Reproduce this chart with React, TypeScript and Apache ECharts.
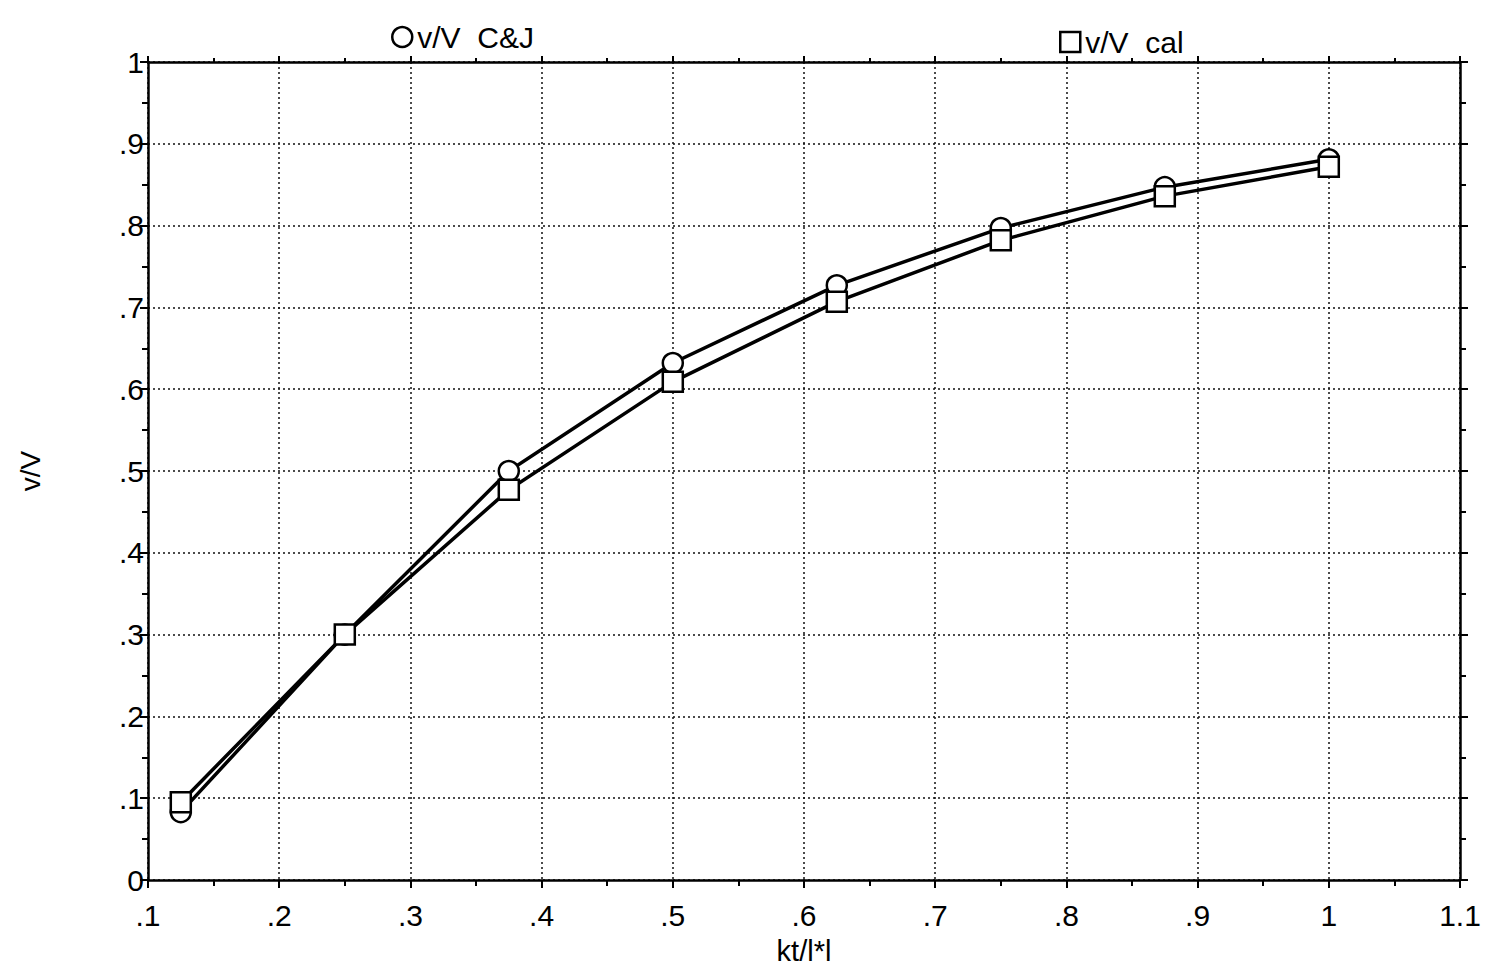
import React, { useEffect, useRef } from "react";
import * as echarts from "echarts";

const xValues = [0.125, 0.25, 0.375, 0.5, 0.625, 0.75, 0.875, 1.0];
const cjValues = [0.083, 0.3, 0.5, 0.632, 0.727, 0.797, 0.847, 0.881];
const calValues = [0.095, 0.3, 0.477, 0.609, 0.707, 0.782, 0.836, 0.872];
const seriesNames = ["v/V  C&J", "v/V  cal"];
const xAxisName = "kt/l*l";
const yAxisName = "v/V";

const FONT = "'Liberation Sans', Arial, Helvetica, sans-serif";

const fmt = (v: number) => {
  const r = Math.round(v * 10) / 10;
  if (r === 0) return "0";
  let s = String(r);
  if (s.startsWith("0.")) s = s.slice(1);
  return s;
};

export default function App() {
  const ref = useRef<HTMLDivElement>(null);
  useEffect(() => {
    document.body.style.margin = "0";
    if (!ref.current) return;
    const chart = echarts.init(ref.current, null, { renderer: "svg" });
    const lineAxisCommon = {
      axisLine: { show: true, onZero: false, lineStyle: { color: "#000", width: 2.5 } },
      axisTick: { show: true, inside: false, length: 8, lineStyle: { color: "#000", width: 2 } },
      minorTick: { show: true, splitNumber: 2, length: 6, lineStyle: { color: "#000", width: 2 } },
    };
    const mkData = (ys: number[]) => xValues.map((x, i) => [x, ys[i]]);
    chart.setOption({
      animation: false,
      backgroundColor: "#fff",
      textStyle: { fontFamily: FONT, color: "#000" },
      grid: {
        left: 148,
        right: 26,
        top: 62,
        bottom: 86,
        containLabel: false,
        outerBoundsMode: "none",
      },
      legend: [
        {
          data: [seriesNames[0]],
          left: 386,
          top: 17,
          icon: "circle",
          itemWidth: 20,
          itemHeight: 20,
          itemStyle: { color: "#fff", borderColor: "#000", borderWidth: 2.5 },
          textStyle: { fontFamily: FONT, fontSize: 30, color: "#000" },
        },
        {
          data: [seriesNames[1]],
          left: 1054,
          top: 22,
          icon: "rect",
          itemWidth: 20,
          itemHeight: 20,
          itemStyle: { color: "#fff", borderColor: "#000", borderWidth: 2.5 },
          textStyle: { fontFamily: FONT, fontSize: 30, color: "#000" },
        },
      ],
      xAxis: [
        {
          type: "value",
          position: "bottom",
          min: 0.1,
          max: 1.1,
          interval: 0.1,
          ...lineAxisCommon,
          axisLabel: {
            formatter: fmt,
            fontFamily: FONT,
            fontSize: 30,
            color: "#000",
            margin: 20,
          },
          splitLine: { show: true, lineStyle: { color: "#111", width: 1.5, type: [2, 3] } },
          name: xAxisName,
          nameLocation: "middle",
          nameGap: 56,
          nameTextStyle: { fontFamily: FONT, fontSize: 29, color: "#000" },
        },
        {
          type: "value",
          position: "top",
          min: 0.1,
          max: 1.1,
          interval: 0.1,
          ...lineAxisCommon,
          axisTick: { show: true, inside: false, length: 6, lineStyle: { color: "#000", width: 2 } },
          minorTick: { show: true, splitNumber: 2, length: 4, lineStyle: { color: "#000", width: 2 } },
          axisLabel: { show: false },
          splitLine: { show: false },
        },
      ],
      yAxis: [
        {
          type: "value",
          position: "left",
          min: 0,
          max: 1,
          interval: 0.1,
          ...lineAxisCommon,
          axisLabel: {
            formatter: fmt,
            fontFamily: FONT,
            fontSize: 30,
            color: "#000",
            margin: 4,
          },
          splitLine: { show: true, lineStyle: { color: "#111", width: 1.5, type: [2, 3] } },
          name: yAxisName,
          nameLocation: "middle",
          nameGap: 104,
          nameRotate: 90,
          nameTextStyle: { fontFamily: FONT, fontSize: 28, color: "#000" },
        },
        {
          type: "value",
          position: "right",
          min: 0,
          max: 1,
          interval: 0.1,
          ...lineAxisCommon,
          axisLabel: { show: false },
          splitLine: { show: false },
        },
      ],
      series: [
        {
          name: seriesNames[0],
          type: "line",
          data: mkData(cjValues),
          symbol: "circle",
          symbolSize: 20,
          showAllSymbol: true,
          lineStyle: { color: "#000", width: 3.5 },
          itemStyle: { color: "#fff", borderColor: "#000", borderWidth: 2.5 },
          z: 2,
        },
        {
          name: seriesNames[1],
          type: "line",
          data: mkData(calValues),
          symbol: "rect",
          symbolSize: 20,
          showAllSymbol: true,
          lineStyle: { color: "#000", width: 3.5 },
          itemStyle: { color: "#fff", borderColor: "#000", borderWidth: 2.5 },
          z: 3,
        },
      ],
    });
    return () => chart.dispose();
  }, []);
  return <div ref={ref} style={{ width: 1486, height: 966 }} />;
}
